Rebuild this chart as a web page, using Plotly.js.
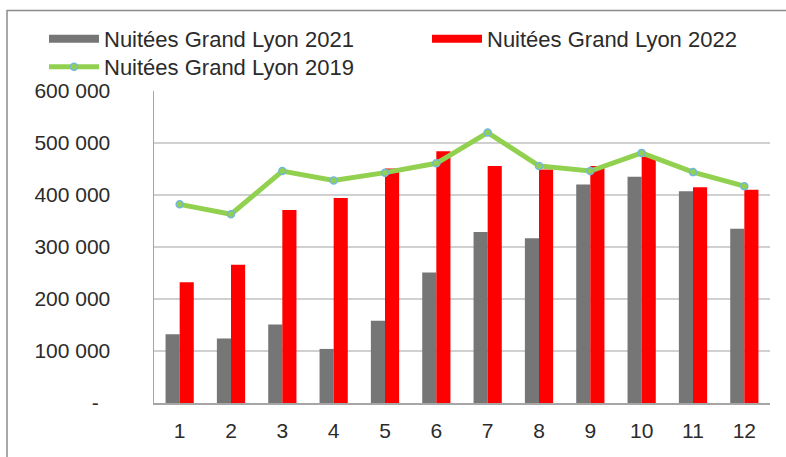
<!DOCTYPE html>
<html>
<head>
<meta charset="utf-8">
<script src="https://cdn.plot.ly/plotly-3.0.1.min.js"></script>
<style>html,body{margin:0;padding:0;background:#fff;}#chart{width:786px;height:457px;}</style>
</head>
<body>
<div id="chart"></div>
<script>
const months = ["1","2","3","4","5","6","7","8","9","10","11","12"];
const nuitees2021 = [132000,124000,151000,104000,158000,251000,329000,317000,420000,435000,407000,335000];
const nuitees2022 = [232000,266000,371000,394000,451000,484000,456000,449000,456000,474000,415000,410000];
const nuitees2019 = [382000,363000,446000,428000,443000,461000,520000,456000,446000,481000,444000,417000];
const seriesNames = ["Nuitées Grand Lyon 2021","Nuitées Grand Lyon 2022","Nuitées Grand Lyon 2019"];
const yTickVals = [0,100000,200000,300000,400000,500000,600000];
const yTickText = ["-\u00a0\u00a0","100 000","200 000","300 000","400 000","500 000","600 000"];

const GRAY = "#767676", RED = "#ff0000", GREEN = "#92d050";
const FONT = "Liberation Sans, Arial, sans-serif";

const traces = [
  {type:"bar", x:months, y:nuitees2021, name:seriesNames[0], marker:{color:GRAY}, showlegend:false, hoverinfo:"y"},
  {type:"bar", x:months, y:nuitees2022, name:seriesNames[1], marker:{color:RED}, showlegend:false, hoverinfo:"y"},
  {type:"scatter", mode:"lines+markers", x:months, y:nuitees2019, name:seriesNames[2],
   line:{color:GREEN, width:5}, marker:{color:GREEN, size:7, line:{color:"#74b8d8", width:1.5}}, legend:"legend2"},
  // legend swatches for the bar series
  {type:"scatter", mode:"lines", x:[null], y:[null], name:seriesNames[0], line:{color:GRAY, width:8}, legend:"legend", hoverinfo:"skip"},
  {type:"scatter", mode:"lines", x:[null], y:[null], name:seriesNames[1], line:{color:RED, width:8}, legend:"legend3", hoverinfo:"skip"}
];

const W=786,H=457,L=154,R=16,T=91,B=54;
const pw=W-L-R, ph=H-T-B;
const px = v => (v-L)/pw;
const py = v => (H-B-v)/ph;

const legFont = {size:22, color:"#2b2b2b", family:FONT};
const legBase = {orientation:"h", xanchor:"left", yanchor:"top", bgcolor:"rgba(0,0,0,0)", font:legFont, itemwidth:50};

const layout = {
  width:W, height:H,
  margin:{l:L, r:R, t:T, b:B, pad:0},
  paper_bgcolor:"#fff", plot_bgcolor:"#fff",
  font:{family:FONT, size:21, color:"#2b2b2b"},
  barmode:"group", bargap:0.45, bargroupgap:0,
  xaxis:{type:"category", range:[-0.5,11.5], showgrid:false, showline:true, linecolor:"#a6a6a6", linewidth:1.5,
         ticks:"", ticklabelstandoff:8, tickfont:{size:21, color:"#2b2b2b"}, fixedrange:true},
  yaxis:{range:[0,600000], tickvals:yTickVals, ticktext:yTickText, showgrid:true, gridcolor:"#d0d0d0", gridwidth:1.2,
         showline:true, linecolor:"#a6a6a6", linewidth:1.5, ticks:"", zeroline:false,
         ticklabelstandoff:38, tickfont:{size:21, color:"#2b2b2b"}, fixedrange:true},
  legend: Object.assign({}, legBase, {x:px(44), y:py(18)}),
  legend3: Object.assign({}, legBase, {x:px(427), y:py(18)}),
  legend2: Object.assign({}, legBase, {x:px(44), y:py(46)}),
  shapes:[{type:"rect", xref:"paper", yref:"paper", x0:px(7), y0:py(10.5), x1:px(800), y1:py(470),
           line:{color:"#8c8c8c", width:1.5}, fillcolor:"rgba(0,0,0,0)", layer:"below"}]
};

Plotly.newPlot("chart", traces, layout, {staticPlot:true, displayModeBar:false});
</script>
</body>
</html>
